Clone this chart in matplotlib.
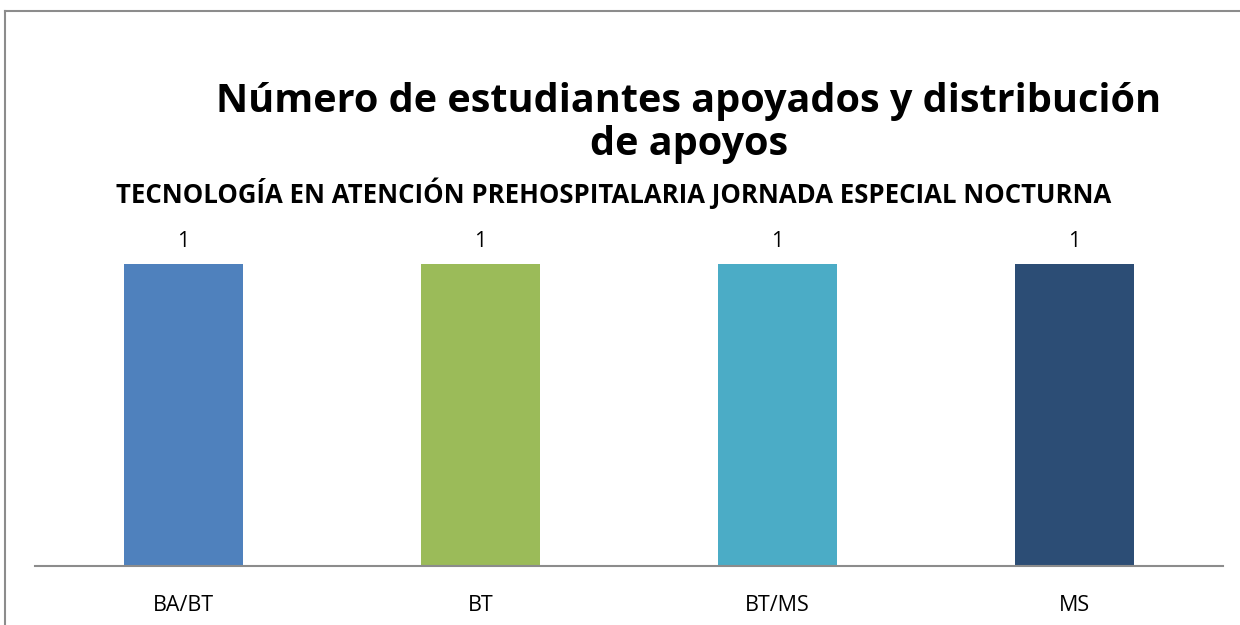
import numpy as np
import matplotlib.pyplot as plt
from matplotlib.lines import Line2D

plt.rcParams['font.family'] = ['Open Sans', 'DejaVu Sans']

categories = ['BA/BT', 'BT', 'BT/MS', 'MS']
values = [1, 1, 1, 1]
colors = ['#4F81BD', '#9BBB59', '#4BACC6', '#2C4D75']

W, H = 1240, 625
fig = plt.figure(figsize=(W / 100, H / 100), dpi=100)

# outer chart border (only left and top visible)
fig.add_artist(Line2D([5 / W, 5 / W], [0, 1 - 11 / H], transform=fig.transFigure,
                      color='#8c8c8c', lw=1.5))
fig.add_artist(Line2D([5 / W, 1], [1 - 11 / H, 1 - 11 / H], transform=fig.transFigure,
                      color='#8c8c8c', lw=1.5))

ax = fig.add_axes([35 / W, 1 - 566 / H, (1223 - 35) / W, (566 - 204) / H])
x_pos = np.arange(len(categories))
bars = ax.bar(x_pos, values, 0.4, color=colors)
ax.set_xlim(-0.5, len(categories) - 0.5)
ax.set_ylim(0, 1.2)

for s in ['left', 'right', 'top']:
    ax.spines[s].set_visible(False)
ax.spines['bottom'].set_color('#8c8c8c')
ax.spines['bottom'].set_linewidth(1.5)
ax.set_yticks([])
ax.set_xticks(x_pos)
ax.set_xticklabels(categories, fontsize=15.5)
ax.tick_params(axis='x', length=0, pad=21)

for rect, v in zip(bars, values):
    ax.annotate('{}'.format(v), xy=(rect.get_x() + rect.get_width() / 2, rect.get_height()),
                xytext=(0, 9), textcoords='offset points', ha='center', va='bottom', fontsize=15.5)

fig.text(689 / W, 1 - 123 / H, 'Número de estudiantes apoyados y distribución\nde apoyos',
         ha='center', va='center', fontsize=28.5, fontweight='bold', linespacing=1.15)
fig.text(614 / W, 1 - 193 / H, 'TECNOLOGÍA EN ATENCIÓN PREHOSPITALARIA JORNADA ESPECIAL NOCTURNA',
         ha='center', va='center', fontsize=18.5, fontweight='bold')

fig.savefig('out.png', dpi=100)
